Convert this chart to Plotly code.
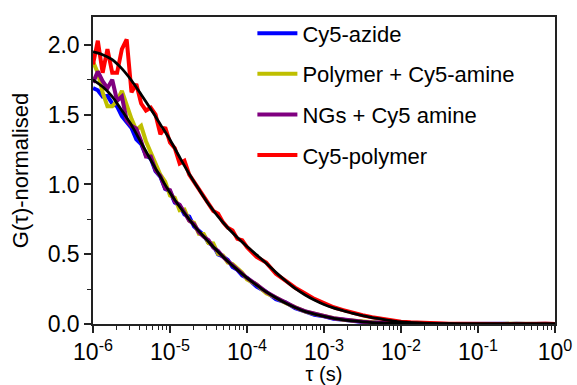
import plotly.graph_objects as go

# ---- data ----
tau = [1.000e-6, 1.155e-6, 1.334e-6, 1.540e-6, 1.778e-6, 2.054e-6, 2.371e-6, 2.738e-6,
       3.162e-6, 3.652e-6, 4.217e-6, 4.870e-6, 5.623e-6, 6.494e-6, 7.499e-6, 8.660e-6,
       1.000e-5, 1.155e-5, 1.334e-5, 1.540e-5, 1.778e-5, 2.054e-5, 2.371e-5, 2.738e-5,
       3.162e-5, 3.652e-5, 4.217e-5, 4.870e-5, 5.623e-5, 6.494e-5, 7.499e-5, 8.660e-5,
       1.000e-4, 1.334e-4, 1.778e-4, 2.371e-4, 3.162e-4, 4.217e-4, 5.623e-4, 7.499e-4,
       1.000e-3, 1.334e-3, 1.778e-3, 2.371e-3, 3.162e-3, 4.217e-3, 5.623e-3, 7.499e-3,
       1.000e-2, 1.334e-2, 1.778e-2, 2.371e-2, 3.162e-2, 4.217e-2, 5.623e-2, 7.499e-2,
       1.000e-1, 1.334e-1, 1.778e-1, 2.371e-1, 3.162e-1, 4.217e-1, 5.623e-1, 7.499e-1,
       1.000]

cy5_azide = [1.690, 1.675, 1.630, 1.635, 1.580, 1.560, 1.490, 1.448,
             1.405, 1.323, 1.290, 1.208, 1.185, 1.095, 1.055, 0.968,
             0.950, 0.870, 0.850, 0.785, 0.770, 0.698, 0.665, 0.638,
             0.580, 0.564, 0.498, 0.484, 0.460, 0.409, 0.388, 0.349,
             0.330, 0.268, 0.230, 0.178, 0.155, 0.113, 0.090, 0.066,
             0.055, 0.037, 0.030, 0.019, 0.015, 0.012, 0.005, 0.005,
             0.004, 0.001, 0.001, 0.002, -0.001, 0.000, 0.001, 0.000,
             -0.001, 0.001, 0.000, 0.000, 0.001, 0.000, -0.001, 0.000,
             0.000]

polymer_cy5_amine = [1.88, 1.80, 1.66, 1.56, 1.56, 1.60, 1.67, 1.56,
                     1.47, 1.39, 1.42, 1.31, 1.23, 1.16, 1.07, 1.02,
                     0.92, 0.905, 0.815, 0.82, 0.74, 0.725, 0.647, 0.645,
                     0.58, 0.577, 0.503, 0.492, 0.44, 0.429, 0.398, 0.369,
                     0.32, 0.283, 0.22, 0.19, 0.15, 0.12, 0.09, 0.073,
                     0.055, 0.042, 0.030, 0.023, 0.014, 0.011, 0.007, 0.006,
                     0.003, 0.003, 0.001, 0.001, 0.000, -0.001, 0.001, 0.000,
                     0.002, 0.000, -0.001, 0.001, 0.000, 0.000, -0.001, 0.001,
                     0.000]

ngs_cy5_amine = [1.73, 1.81, 1.74, 1.69, 1.75, 1.60, 1.63, 1.46,
                 1.42, 1.40, 1.31, 1.20, 1.20, 1.10, 1.06, 0.97,
                 0.96, 0.875, 0.855, 0.798, 0.74, 0.715, 0.657, 0.625,
                 0.60, 0.547, 0.523, 0.482, 0.45, 0.419, 0.388, 0.359,
                 0.33, 0.283, 0.23, 0.19, 0.152, 0.12, 0.092, 0.072,
                 0.057, 0.041, 0.031, 0.022, 0.016, 0.010, 0.008, 0.005,
                 0.003, 0.002, 0.001, 0.000, 0.001, 0.000, -0.001, 0.000,
                 0.001, 0.000, 0.000, 0.001, 0.000, -0.001, 0.000, 0.001,
                 0.000]

cy5_polymer = [1.86, 2.03, 1.80, 1.97, 1.80, 1.80, 1.97, 2.04,
               1.66, 1.72, 1.58, 1.53, 1.55, 1.50, 1.36, 1.41,
               1.30, 1.26, 1.15, 1.17, 1.07, 1.02, 0.96, 0.92,
               0.87, 0.81, 0.79, 0.73, 0.69, 0.67, 0.61, 0.60,
               0.55, 0.48, 0.44, 0.36, 0.31, 0.26, 0.22, 0.18,
               0.15, 0.12, 0.10, 0.08, 0.063, 0.048, 0.037, 0.026,
               0.017, 0.012, 0.008, 0.005, 0.004, 0.002, 0.002, 0.001,
               0.000, 0.001, 0.000, 0.000, 0.001, 0.000, 0.000, 0.001,
               0.000]

fit_tau = [1.000e-6, 1.334e-6, 1.778e-6, 2.371e-6, 3.162e-6, 4.217e-6, 5.623e-6, 7.499e-6,
           1.000e-5, 1.334e-5, 1.778e-5, 2.371e-5, 3.162e-5, 4.217e-5, 5.623e-5, 7.499e-5,
           1.000e-4, 1.334e-4, 1.778e-4, 2.371e-4, 3.162e-4, 4.217e-4, 5.623e-4, 7.499e-4,
           1.000e-3, 1.334e-3, 1.778e-3, 2.371e-3, 3.162e-3, 4.217e-3, 5.623e-3, 7.499e-3,
           1.000e-2, 1.778e-2, 3.162e-2, 5.623e-2, 1.000e-1, 3.162e-1, 1.000]
fit_lower = [1.750, 1.700, 1.630, 1.530, 1.425, 1.300, 1.175, 1.055,
             0.940, 0.840, 0.750, 0.665, 0.590, 0.518, 0.450, 0.388,
             0.330, 0.278, 0.230, 0.188, 0.150, 0.118, 0.090, 0.071,
             0.055, 0.041, 0.030, 0.022, 0.015, 0.010, 0.007, 0.005,
             0.003, 0.001, 0.000, 0.000, 0.000, 0.000, 0.000]
fit_upper = [1.950, 1.930, 1.895, 1.830, 1.745, 1.645, 1.540, 1.430,
             1.320, 1.195, 1.075, 0.965, 0.860, 0.770, 0.690, 0.620,
             0.555, 0.495, 0.435, 0.370, 0.310, 0.255, 0.210, 0.172,
             0.140, 0.115, 0.095, 0.076, 0.060, 0.046, 0.035, 0.024,
             0.015, 0.007, 0.003, 0.001, 0.000, 0.000, 0.000]

series_names = ["Cy5-azide", "Polymer + Cy5-amine", "NGs + Cy5 amine", "Cy5-polymer"]
series_values = [cy5_azide, polymer_cy5_amine, ngs_cy5_amine, cy5_polymer]
series_colors = ["#0000ff", "#bfbf00", "#800080", "#ff0000"]

x_tickvals = [1e-6, 1e-5, 1e-4, 1e-3, 1e-2, 1e-1, 1]
x_ticktext = ["10<sup>-6</sup>", "10<sup>-5</sup>", "10<sup>-4</sup>", "10<sup>-3</sup>",
              "10<sup>-2</sup>", "10<sup>-1</sup>", "10<sup>0</sup>"]
y_tickvals = [0.0, 0.5, 1.0, 1.5, 2.0]
y_ticktext = ["0.0", "0.5", "1.0", "1.5", "2.0"]

FONT = "Liberation Sans, Arial, sans-serif"
AX = "#222222"

fig = go.Figure()
for i, (name, vals, col) in enumerate(zip(series_names, series_values, series_colors)):
    fig.add_trace(go.Scatter(x=tau, y=vals, mode="lines", name=name, legendgroup=f"g{i}",
                             line=dict(color=col, width=4)))
for fv in (fit_lower, fit_upper):
    fig.add_trace(go.Scatter(x=fit_tau, y=fv, mode="lines", showlegend=False,
                             line=dict(color="black", width=2.8, shape="spline", smoothing=0.8)))

fig.update_layout(
    width=577, height=385,
    margin=dict(l=93, r=22, t=17, b=61),
    paper_bgcolor="white", plot_bgcolor="white",
    font=dict(family=FONT, color="black"),
    showlegend=True,
    legend=dict(x=0.345, y=1.015, xanchor="left", yanchor="top",
                bgcolor="rgba(0,0,0,0)", font=dict(size=22, family=FONT),
                tracegroupgap=9, itemwidth=40),
)
fig.update_xaxes(
    type="log", range=[-6, 0], automargin=False,
    tickvals=x_tickvals, ticktext=x_ticktext,
    tickfont=dict(size=23, family=FONT, color="black"),
    ticks="outside", ticklen=7, tickwidth=1.5, tickcolor=AX,
    minor=dict(ticks="outside", ticklen=4, tickwidth=1.2, tickcolor=AX, dtick="D1"),
    showline=True, linecolor=AX, linewidth=1.5, mirror=True,
    showgrid=False, zeroline=False,
    title=dict(text="τ (s)", font=dict(size=20, family=FONT), standoff=0),
)
fig.update_yaxes(
    range=[0, 2.2], automargin=False,
    tickvals=y_tickvals, ticktext=y_ticktext,
    tickfont=dict(size=23, family=FONT, color="black"),
    ticks="outside", ticklen=7, tickwidth=1.5, tickcolor=AX,
    minor=dict(ticks="outside", ticklen=4, tickwidth=1.2, tickcolor=AX, dtick=0.25, tick0=0),
    showline=True, linecolor=AX, linewidth=1.5, mirror=True,
    showgrid=False, zeroline=False,
    title=dict(text="G(τ)-normalised", font=dict(size=22, family=FONT), standoff=13),
)

fig.write_html("out.html")
